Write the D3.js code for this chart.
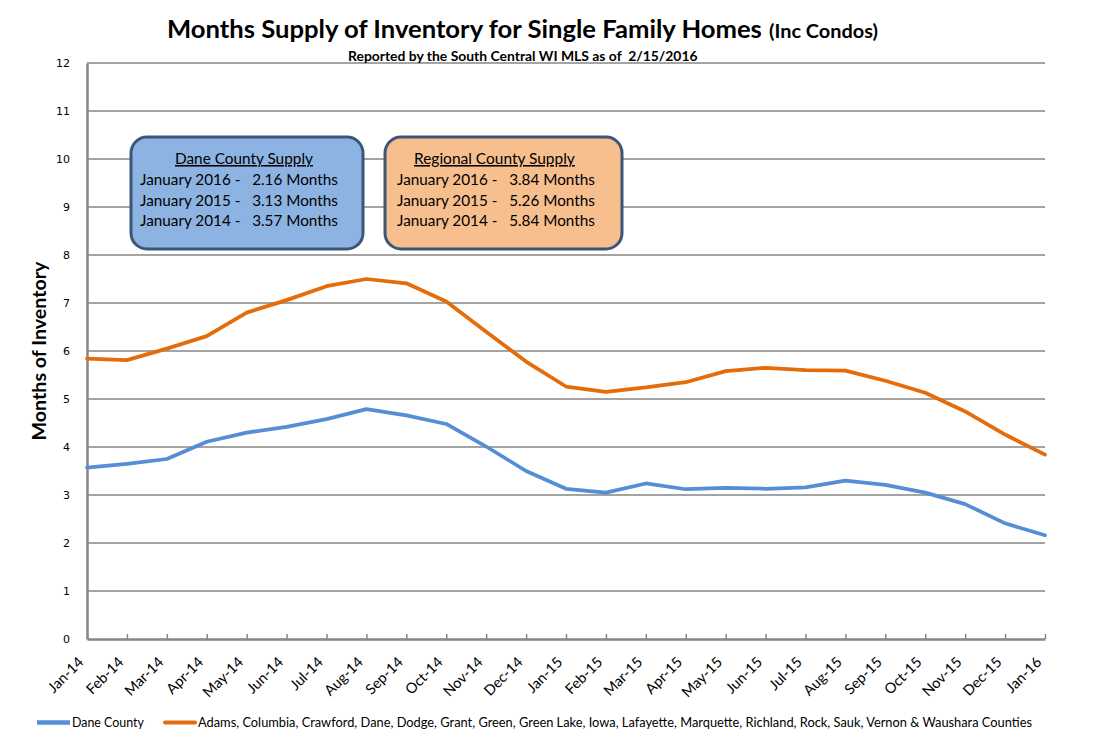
<!DOCTYPE html>
<html><head><meta charset="utf-8">
<script src="https://cdn.jsdelivr.net/npm/d3@7"></script>
<style>body{margin:0;background:#fff}svg{display:block}</style>
</head><body>
<svg id="c" width="1108" height="740"></svg>
<script>
const months = ["Jan-14","Feb-14","Mar-14","Apr-14","May-14","Jun-14","Jul-14","Aug-14","Sep-14","Oct-14","Nov-14","Dec-14",
  "Jan-15","Feb-15","Mar-15","Apr-15","May-15","Jun-15","Jul-15","Aug-15","Sep-15","Oct-15","Nov-15","Dec-15","Jan-16"];
const daneCounty = [3.57,3.65,3.75,4.11,4.30,4.42,4.58,4.79,4.66,4.48,4.01,3.50,
  3.13,3.05,3.24,3.12,3.15,3.13,3.16,3.30,3.21,3.05,2.81,2.41,2.16];
const regional = [5.84,5.81,6.05,6.31,6.80,7.06,7.35,7.50,7.41,7.03,6.40,5.78,
  5.26,5.15,5.24,5.35,5.58,5.65,5.60,5.59,5.38,5.13,4.74,4.26,3.84];
const yTicks = [0,1,2,3,4,5,6,7,8,9,10,11,12];
const seriesNames = ["Dane County","Adams, Columbia, Crawford, Dane, Dodge, Grant, Green, Green Lake, Iowa, Lafayette, Marquette, Richland, Rock, Sauk, Vernon & Waushara Counties"];
const daneBox = ["Dane County Supply","January 2016 -   2.16 Months","January 2015 -   3.13 Months","January 2014 -   3.57 Months"];
const regionBox = ["Regional County Supply","January 2016 -   3.84 Months","January 2015 -   5.26 Months","January 2014 -   5.84 Months"];

const BLUE = "#558ED5", ORANGE = "#E46C0A", GRID = "#868686";
const FONT = "Lato, 'Open Sans', sans-serif";
const svg = d3.select("#c");
const L = 87, R = 1045, T = 63, B = 639;
const x = d3.scalePoint().domain(months).range([L, R]);
const y = d3.scaleLinear().domain([0, 12]).range([B, T]);

function fit(sel, w) {
  const n = sel.node(); const fs = parseFloat(sel.attr("font-size"));
  const cw = n.getComputedTextLength();
  if (cw > 0) sel.attr("font-size", (fs * w / cw).toFixed(2));
  return sel;
}

// gridlines
svg.append("g").selectAll("line").data(yTicks.filter(d => d > 0)).join("line")
  .attr("x1", L).attr("x2", R).attr("y1", d => y(d)).attr("y2", d => y(d))
  .attr("stroke", GRID).attr("stroke-width", 1.5);

// y axis
const ya = svg.append("g").attr("transform", `translate(${L},0)`)
  .call(d3.axisLeft(y).tickValues(yTicks).tickSize(0).tickPadding(17).tickFormat(d3.format("d")));
ya.select(".domain").attr("stroke", GRID).attr("stroke-width", 2.5);
ya.selectAll("text").attr("font-family", "'DejaVu Sans', Verdana, sans-serif").attr("font-size", 11).attr("fill", "#000");

// x axis
const xa = svg.append("g").attr("transform", `translate(0,${B})`)
  .call(d3.axisBottom(x).tickSize(-5).tickPadding(0).tickSizeOuter(0));
xa.select(".domain").attr("stroke", GRID).attr("stroke-width", 2.5);
xa.selectAll(".tick line").attr("stroke", GRID).attr("stroke-width", 1.5);
xa.selectAll(".tick text").attr("font-family", FONT).attr("font-size", 14.5).attr("fill", "#000")
  .attr("text-anchor", "end").attr("dy", 0).attr("y", 0)
  .attr("transform", "translate(-3,24) rotate(-45)");

// lines
const line = d3.line().x((d, i) => x(months[i])).y(d => y(d));
svg.append("path").datum(regional).attr("d", line).attr("fill", "none")
  .attr("stroke", ORANGE).attr("stroke-width", 3.75).attr("stroke-linejoin", "round").attr("stroke-linecap", "round");
svg.append("path").datum(daneCounty).attr("d", line).attr("fill", "none")
  .attr("stroke", BLUE).attr("stroke-width", 3.75).attr("stroke-linejoin", "round").attr("stroke-linecap", "round");

// boxes
function box(x0, w, fill, lines, hx, hw, tx) {
  const g = svg.append("g");
  g.append("rect").attr("x", x0).attr("y", 137).attr("width", w).attr("height", 112)
    .attr("rx", 16).attr("ry", 16).attr("fill", fill).attr("stroke", "#3B5778").attr("stroke-width", 3);
  const h = g.append("text").attr("x", hx).attr("y", 164)
    .attr("font-family", FONT).attr("font-size", 15).attr("fill", "#000").attr("text-decoration", "underline")
    .text(lines[0]);
  fit(h, hw);
  lines.slice(1).forEach((t, i) => {
    const s = g.append("text").attr("x", tx).attr("y", 185 + i * 20.5)
      .attr("font-family", FONT).attr("font-size", 15).attr("fill", "#000")
      .attr("xml:space", "preserve").style("white-space", "pre").text(t);
    fit(s, 198);
  });
}
box(131, 232, "#8DB3E2", daneBox, 175, 138, 140);
box(385, 237, "#F7BE8E", regionBox, 414, 161, 397);

// title
const t1 = svg.append("text").attr("x", 167).attr("y", 38).attr("font-family", FONT)
  .attr("font-weight", "bold").attr("font-size", 23).attr("fill", "#000")
  .text("Months Supply of Inventory for Single Family Homes");
fit(t1, 595);
const t2 = svg.append("text").attr("x", 769).attr("y", 38).attr("font-family", FONT)
  .attr("font-weight", "bold").attr("font-size", 17).attr("fill", "#000").text("(Inc Condos)");
fit(t2, 109);
const st = svg.append("text").attr("x", 348).attr("y", 61).attr("font-family", FONT)
  .attr("font-weight", "bold").attr("font-size", 11.5).attr("fill", "#000")
  .attr("xml:space", "preserve").style("white-space", "pre")
  .text("Reported by the South Central WI MLS as of  2/15/2016");
fit(st, 350);

// y title
const yt = svg.append("text").attr("transform", "translate(46,351) rotate(-90)").attr("text-anchor", "middle")
  .attr("font-family", FONT).attr("font-weight", "bold").attr("font-size", 18.5).attr("fill", "#000")
  .text("Months of Inventory");
fit(yt, 179);

// legend
const lg = svg.append("g");
lg.append("line").attr("x1", 37).attr("x2", 70).attr("y1", 722.5).attr("y2", 722.5).attr("stroke", BLUE).attr("stroke-width", 4.5);
const l1 = lg.append("text").attr("x", 72).attr("y", 727).attr("font-family", FONT).attr("font-size", 12.5).attr("fill", "#000").text(seriesNames[0]);
fit(l1, 72);
lg.append("line").attr("x1", 165).attr("x2", 195).attr("y1", 722.5).attr("y2", 722.5).attr("stroke", ORANGE).attr("stroke-width", 4).attr("stroke-linecap", "round");
const l2 = lg.append("text").attr("x", 198).attr("y", 727).attr("font-family", FONT).attr("font-size", 12.5).attr("fill", "#000").text(seriesNames[1]);
fit(l2, 834);
</script>
</body></html>
